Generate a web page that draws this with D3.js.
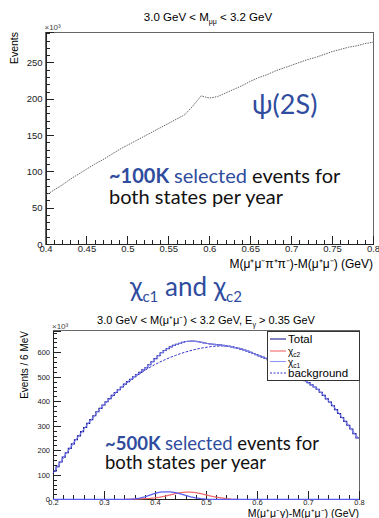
<!DOCTYPE html>
<html>
<head>
<meta charset="utf-8">
<script src="https://cdn.jsdelivr.net/npm/d3@7"></script>
<style>
  body { margin: 0; background: #fff; }
  svg { display: block; font-family: "Liberation Sans", Arial, sans-serif; }
  .axis path, .axis line { stroke: #222; shape-rendering: crispEdges; }
  .axis text { fill: #222; }
  .note { font-family: Lato, "Open Sans", sans-serif; }
</style>
</head>
<body>
<div id="chart"></div>
<script>
// psi(2S) panel: M(mu mu pi pi) - M(mu mu) in GeV, events in units of 10^3
var psiMass = [0.40, 0.41, 0.42, 0.43, 0.44, 0.45, 0.46, 0.47, 0.48, 0.49,
               0.50, 0.51, 0.52, 0.53, 0.54, 0.55, 0.56, 0.57, 0.58, 0.59,
               0.60, 0.61, 0.62, 0.63, 0.64, 0.65, 0.66, 0.67, 0.68, 0.69,
               0.70, 0.71, 0.72, 0.73, 0.74, 0.75, 0.76, 0.77, 0.78, 0.79, 0.80];
var psiEvents = [67, 74, 81, 89, 96, 103, 110, 116, 123, 130,
                 136, 142, 148, 154, 160, 166, 172, 178, 190, 204,
                 201, 203, 208, 213, 218, 224, 229, 233, 238, 242,
                 246, 250, 254, 257, 261, 265, 268, 271, 273, 276, 278];
var psiXTicks = [0.4, 0.45, 0.5, 0.55, 0.6, 0.65, 0.7, 0.75, 0.8];
var psiYTicks = [0, 50, 100, 150, 200, 250];

// chi_c panel: 6 MeV bins from 0.2 GeV, events in units of 10^3
var chiBinStart = 0.2, chiBinWidth = 0.006;
var chiTotal = [115, 133, 152, 172, 190, 208, 226, 243, 259, 276,
                293, 310, 325, 341, 357, 371, 385, 398, 411, 424,
                436, 447, 458, 470, 480, 490, 500, 509, 518, 528,
                537, 549, 561, 574, 586, 598, 607, 615, 622, 628,
                633, 637, 641, 644, 645, 646, 645, 643, 641, 638,
                636, 634, 633, 631, 630, 628, 626, 624, 622, 619,
                616, 613, 609, 605, 600, 595, 590, 585, 580, 575,
                569, 563, 557, 551, 544, 537, 530, 523, 516, 508,
                500, 492, 484, 476, 467, 458, 449, 437, 424, 410,
                397, 382, 366, 350, 334, 318, 302, 287, 268, 250];
var bgMass = [0.20, 0.22, 0.24, 0.26, 0.28, 0.30, 0.32, 0.34, 0.36, 0.38,
              0.40, 0.42, 0.44, 0.46, 0.48, 0.50, 0.52, 0.54, 0.56, 0.58,
              0.60, 0.62, 0.64, 0.66, 0.68, 0.70, 0.72, 0.74, 0.76, 0.78, 0.80];
var bgEvents = [106, 168, 228, 285, 337, 385, 428, 466, 498, 526,
                550, 570, 587, 601, 612, 620, 625, 626, 618, 605,
                590, 571, 552, 529, 503, 476, 446, 404, 352, 300, 245];
var chic1Mass = [0.20, 0.30, 0.35, 0.36, 0.37, 0.38, 0.39, 0.40, 0.41, 0.42, 0.43,
                 0.44, 0.45, 0.46, 0.47, 0.48, 0.49, 0.50, 0.51, 0.60, 0.70, 0.80];
var chic1Events = [0, 0, 0, 2, 5, 10, 17, 24, 29, 30, 30,
                   27, 22, 16, 10, 6, 3, 1, 0, 0, 0, 0];
var chic2Mass = [0.34, 0.35, 0.36, 0.37, 0.38, 0.39, 0.40, 0.41, 0.42, 0.43, 0.44, 0.45,
                 0.46, 0.47, 0.48, 0.49, 0.50, 0.51, 0.52, 0.53, 0.54, 0.55, 0.56];
var chic2Events = [0, 1, 1, 2, 3, 4, 6, 9, 13, 18, 23, 27,
                   29, 29, 27, 23, 18, 13, 9, 6, 3, 1, 0];
var chiXTicks = [0.2, 0.3, 0.4, 0.5, 0.6, 0.7, 0.8];
var chiYTicks = [0, 100, 200, 300, 400, 500, 600];

var width = 379, height = 518,
    noteBlue = "#2f4c9e",
    navy = "#1c1c96",
    lightBlue = "#8f94ff",
    lightRed = "#f06a6a";

var svg = d3.select("#chart").append("svg")
    .attr("width", width)
    .attr("height", height);

function minorValues(lo, hi, step) {
    var out = [];
    for (var v = lo; v <= hi + 1e-9; v += step) out.push(+v.toFixed(4));
    return out;
}

function drawFrame(x, y, opts) {
    var g = svg.append("g");
    var x0 = x.range()[0], x1 = x.range()[1], y0 = y.range()[0], y1 = y.range()[1];

    g.append("rect")
        .attr("x", x0).attr("y", y1)
        .attr("width", x1 - x0).attr("height", y0 - y1)
        .attr("fill", "none")
        .attr("stroke", "#666")
        .attr("shape-rendering", "crispEdges");

    // minor ticks first
    g.append("g").attr("class", "axis")
        .attr("transform", "translate(0," + y0 + ")")
        .call(d3.axisBottom(x).tickValues(opts.xMinor).tickSize(-4).tickFormat(""))
        .select(".domain").remove();
    g.append("g").attr("class", "axis")
        .attr("transform", "translate(" + x0 + ",0)")
        .call(d3.axisLeft(y).tickValues(opts.yMinor).tickSize(-4).tickFormat(""))
        .select(".domain").remove();

    var xa = g.append("g").attr("class", "axis")
        .attr("transform", "translate(0," + y0 + ")")
        .call(d3.axisBottom(x).tickValues(opts.xTicks).tickSize(-8).tickPadding(opts.xPad)
            .tickFormat(function(d) { return String(+d.toFixed(2)); }));
    xa.selectAll("text").style("font-size", opts.labelSize + "px");

    var ya = g.append("g").attr("class", "axis")
        .attr("transform", "translate(" + x0 + ",0)")
        .call(d3.axisLeft(y).tickValues(opts.yTicks).tickSize(-8).tickPadding(3));
    ya.selectAll("text").style("font-size", opts.labelSize + "px");

    g.append("text")
        .attr("x", x0 - 1).attr("y", y1 - 2)
        .style("font-size", "8px").style("fill", "#444")
        .text("\u00d710\u00b3");
    return g;
}

// ---------- psi(2S) panel ----------
var xTop = d3.scaleLinear().domain([0.4, 0.8]).range([45.5, 373]);
var yTop = d3.scaleLinear().domain([0, 292]).range([244, 32]);

drawFrame(xTop, yTop, {
    xTicks: psiXTicks, yTicks: psiYTicks,
    xMinor: minorValues(0.4, 0.8, 0.01), yMinor: minorValues(0, 290, 10),
    labelSize: 9.5, xPad: 1
});

var psiLine = d3.line()
    .x(function(d, i) { return xTop(psiMass[i]); })
    .y(function(d) { return yTop(d); });

svg.append("path")
    .datum(psiEvents)
    .attr("d", psiLine)
    .attr("fill", "none")
    .attr("stroke", "#666")
    .attr("stroke-width", 1)
    .attr("stroke-dasharray", "1.5,1");

svg.append("text")
    .attr("x", 208).attr("y", 21)
    .attr("text-anchor", "middle")
    .style("font-size", "11.5px")
    .html('3.0 GeV &lt; M<tspan dy="3" font-size="7px">\u03bc\u03bc</tspan><tspan dy="-3"> &lt; 3.2 GeV</tspan>');

svg.append("text")
    .attr("transform", "translate(18,32) rotate(-90)")
    .attr("text-anchor", "end")
    .style("font-size", "10.5px")
    .text("Events");

svg.append("text")
    .attr("x", 373).attr("y", 268)
    .attr("text-anchor", "end")
    .style("font-size", "12px")
    .text("M(\u03bc\u207a\u03bc\u207b\u03c0\u207a\u03c0\u207b)-M(\u03bc\u207a\u03bc\u207b) (GeV)");

svg.append("text").attr("class", "note")
    .attr("x", 252).attr("y", 114)
    .style("font-size", "27px").style("fill", noteBlue)
    .text("\u03c8(2S)");

var note1 = svg.append("text").attr("class", "note")
    .attr("x", 109).attr("y", 183)
    .style("font-size", "20px").style("fill", "#111");
note1.append("tspan").style("fill", noteBlue).style("font-weight", "bold").text("~100K ");
note1.append("tspan").style("fill", noteBlue).text("selected ");
note1.append("tspan").text("events for");
svg.append("text").attr("class", "note")
    .attr("x", 109).attr("y", 204)
    .style("font-size", "20px").style("fill", "#111")
    .text("both states per year");

// ---------- chi_c heading ----------
var head = svg.append("text").attr("class", "note")
    .attr("x", 130).attr("y", 296)
    .style("font-size", "26px").style("fill", noteBlue);
head.append("tspan").text("\u03c7");
head.append("tspan").attr("dy", 6).style("font-size", "15px").text("c1");
head.append("tspan").attr("dy", -6).text(" and \u03c7");
head.append("tspan").attr("dy", 6).style("font-size", "15px").text("c2");

// ---------- chi_c panel ----------
var xBot = d3.scaleLinear().domain([0.2, 0.8]).range([53, 359]);
var yBot = d3.scaleLinear().domain([0, 688]).range([499.3, 330.7]);

drawFrame(xBot, yBot, {
    xTicks: chiXTicks, yTicks: chiYTicks,
    xMinor: minorValues(0.2, 0.8, 0.02), yMinor: minorValues(0, 680, 20),
    labelSize: 7.5, xPad: 0
});

svg.append("text")
    .attr("x", 206).attr("y", 324)
    .attr("text-anchor", "middle")
    .style("font-size", "11px")
    .html('3.0 GeV &lt; M(\u03bc\u207a\u03bc\u207b) &lt; 3.2 GeV, E<tspan dy="3" font-size="7px">\u03b3</tspan><tspan dy="-3"> &gt; 0.35 GeV</tspan>');

svg.append("text")
    .attr("transform", "translate(28,331) rotate(-90)")
    .attr("text-anchor", "end")
    .style("font-size", "10px")
    .text("Events / 6 MeV");

svg.append("text")
    .attr("x", 359).attr("y", 517)
    .attr("text-anchor", "end")
    .style("font-size", "10.5px")
    .text("M(\u03bc\u207a\u03bc\u207b\u03b3)-M(\u03bc\u207a\u03bc\u207b) (GeV)");

var plot = svg.append("g");

// chi_c1 / chi_c2 components
var c1Line = d3.line()
    .x(function(d, i) { return xBot(chic1Mass[i]); })
    .y(function(d) { return yBot(d); });
var c2Line = d3.line()
    .x(function(d, i) { return xBot(chic2Mass[i]); })
    .y(function(d) { return yBot(d); });

plot.append("path").datum(chic2Events)
    .attr("d", c2Line)
    .attr("fill", "none").attr("stroke", lightRed).attr("stroke-width", 1.2);
plot.append("path").datum(chic1Events)
    .attr("d", c1Line)
    .attr("fill", "none").attr("stroke", "#5a5cf0").attr("stroke-width", 1.2);

// background function
var bgLine = d3.line()
    .curve(d3.curveMonotoneX)
    .x(function(d, i) { return xBot(bgMass[i]); })
    .y(function(d) { return yBot(d); });
plot.append("path").datum(bgEvents)
    .attr("d", bgLine)
    .attr("fill", "none").attr("stroke", "#3434d0")
    .attr("stroke-width", 1).attr("stroke-dasharray", "2.5,1.5");

// total histogram (steps) plus light overlay through bin centres
var totalSteps = chiTotal.map(function(d, i) { return [chiBinStart + i * chiBinWidth, d]; });
totalSteps.push([chiBinStart + chiTotal.length * chiBinWidth, chiTotal[chiTotal.length - 1]]);

plot.append("path").datum(totalSteps)
    .attr("d", d3.line().curve(d3.curveStepAfter)
        .x(function(d) { return xBot(d[0]); })
        .y(function(d) { return yBot(d[1]); }))
    .attr("fill", "none").attr("stroke", navy).attr("stroke-width", 1.1);

plot.append("path").datum(chiTotal)
    .attr("d", d3.line()
        .x(function(d, i) { return xBot(chiBinStart + (i + 0.5) * chiBinWidth); })
        .y(function(d) { return yBot(d); }))
    .attr("fill", "none").attr("stroke", lightBlue).attr("stroke-width", 1.1).attr("opacity", 0.85);

// legend
var legend = svg.append("g").attr("transform", "translate(267,331)");
legend.append("rect")
    .attr("width", 92).attr("height", 49)
    .attr("fill", "#fff").attr("stroke", "#333")
    .attr("shape-rendering", "crispEdges");

var legendItems = [
    {label: "Total", color: navy, dash: null},
    {label: "\u03c7", sub: "c2", color: lightRed, dash: null},
    {label: "\u03c7", sub: "c1", color: lightBlue, dash: null},
    {label: "background", color: "#3434d0", dash: "2,1.5"}
];
var rowY = [8, 20, 30.5, 42];

legendItems.forEach(function(item, i) {
    legend.append("line")
        .attr("x1", 3).attr("x2", 19)
        .attr("y1", rowY[i]).attr("y2", rowY[i])
        .attr("stroke", item.color).attr("stroke-width", 1.1)
        .attr("stroke-dasharray", item.dash);
    var t = legend.append("text")
        .attr("x", 21).attr("y", rowY[i] + 4)
        .style("font-size", item.sub ? "10px" : "11.5px")
        .text(item.label);
    if (item.sub) {
        t.append("tspan").attr("dy", 2).style("font-size", "6.5px").text(item.sub);
    }
});

var note2 = svg.append("text").attr("class", "note")
    .attr("x", 105).attr("y", 450)
    .style("font-size", "18.5px").style("fill", "#111");
note2.append("tspan").style("fill", noteBlue).style("font-weight", "bold").text("~500K ");
note2.append("tspan").style("fill", noteBlue).text("selected ");
note2.append("tspan").text("events for");
svg.append("text").attr("class", "note")
    .attr("x", 105).attr("y", 469)
    .style("font-size", "18.5px").style("fill", "#111")
    .text("both states per year");
</script>
</body>
</html>
